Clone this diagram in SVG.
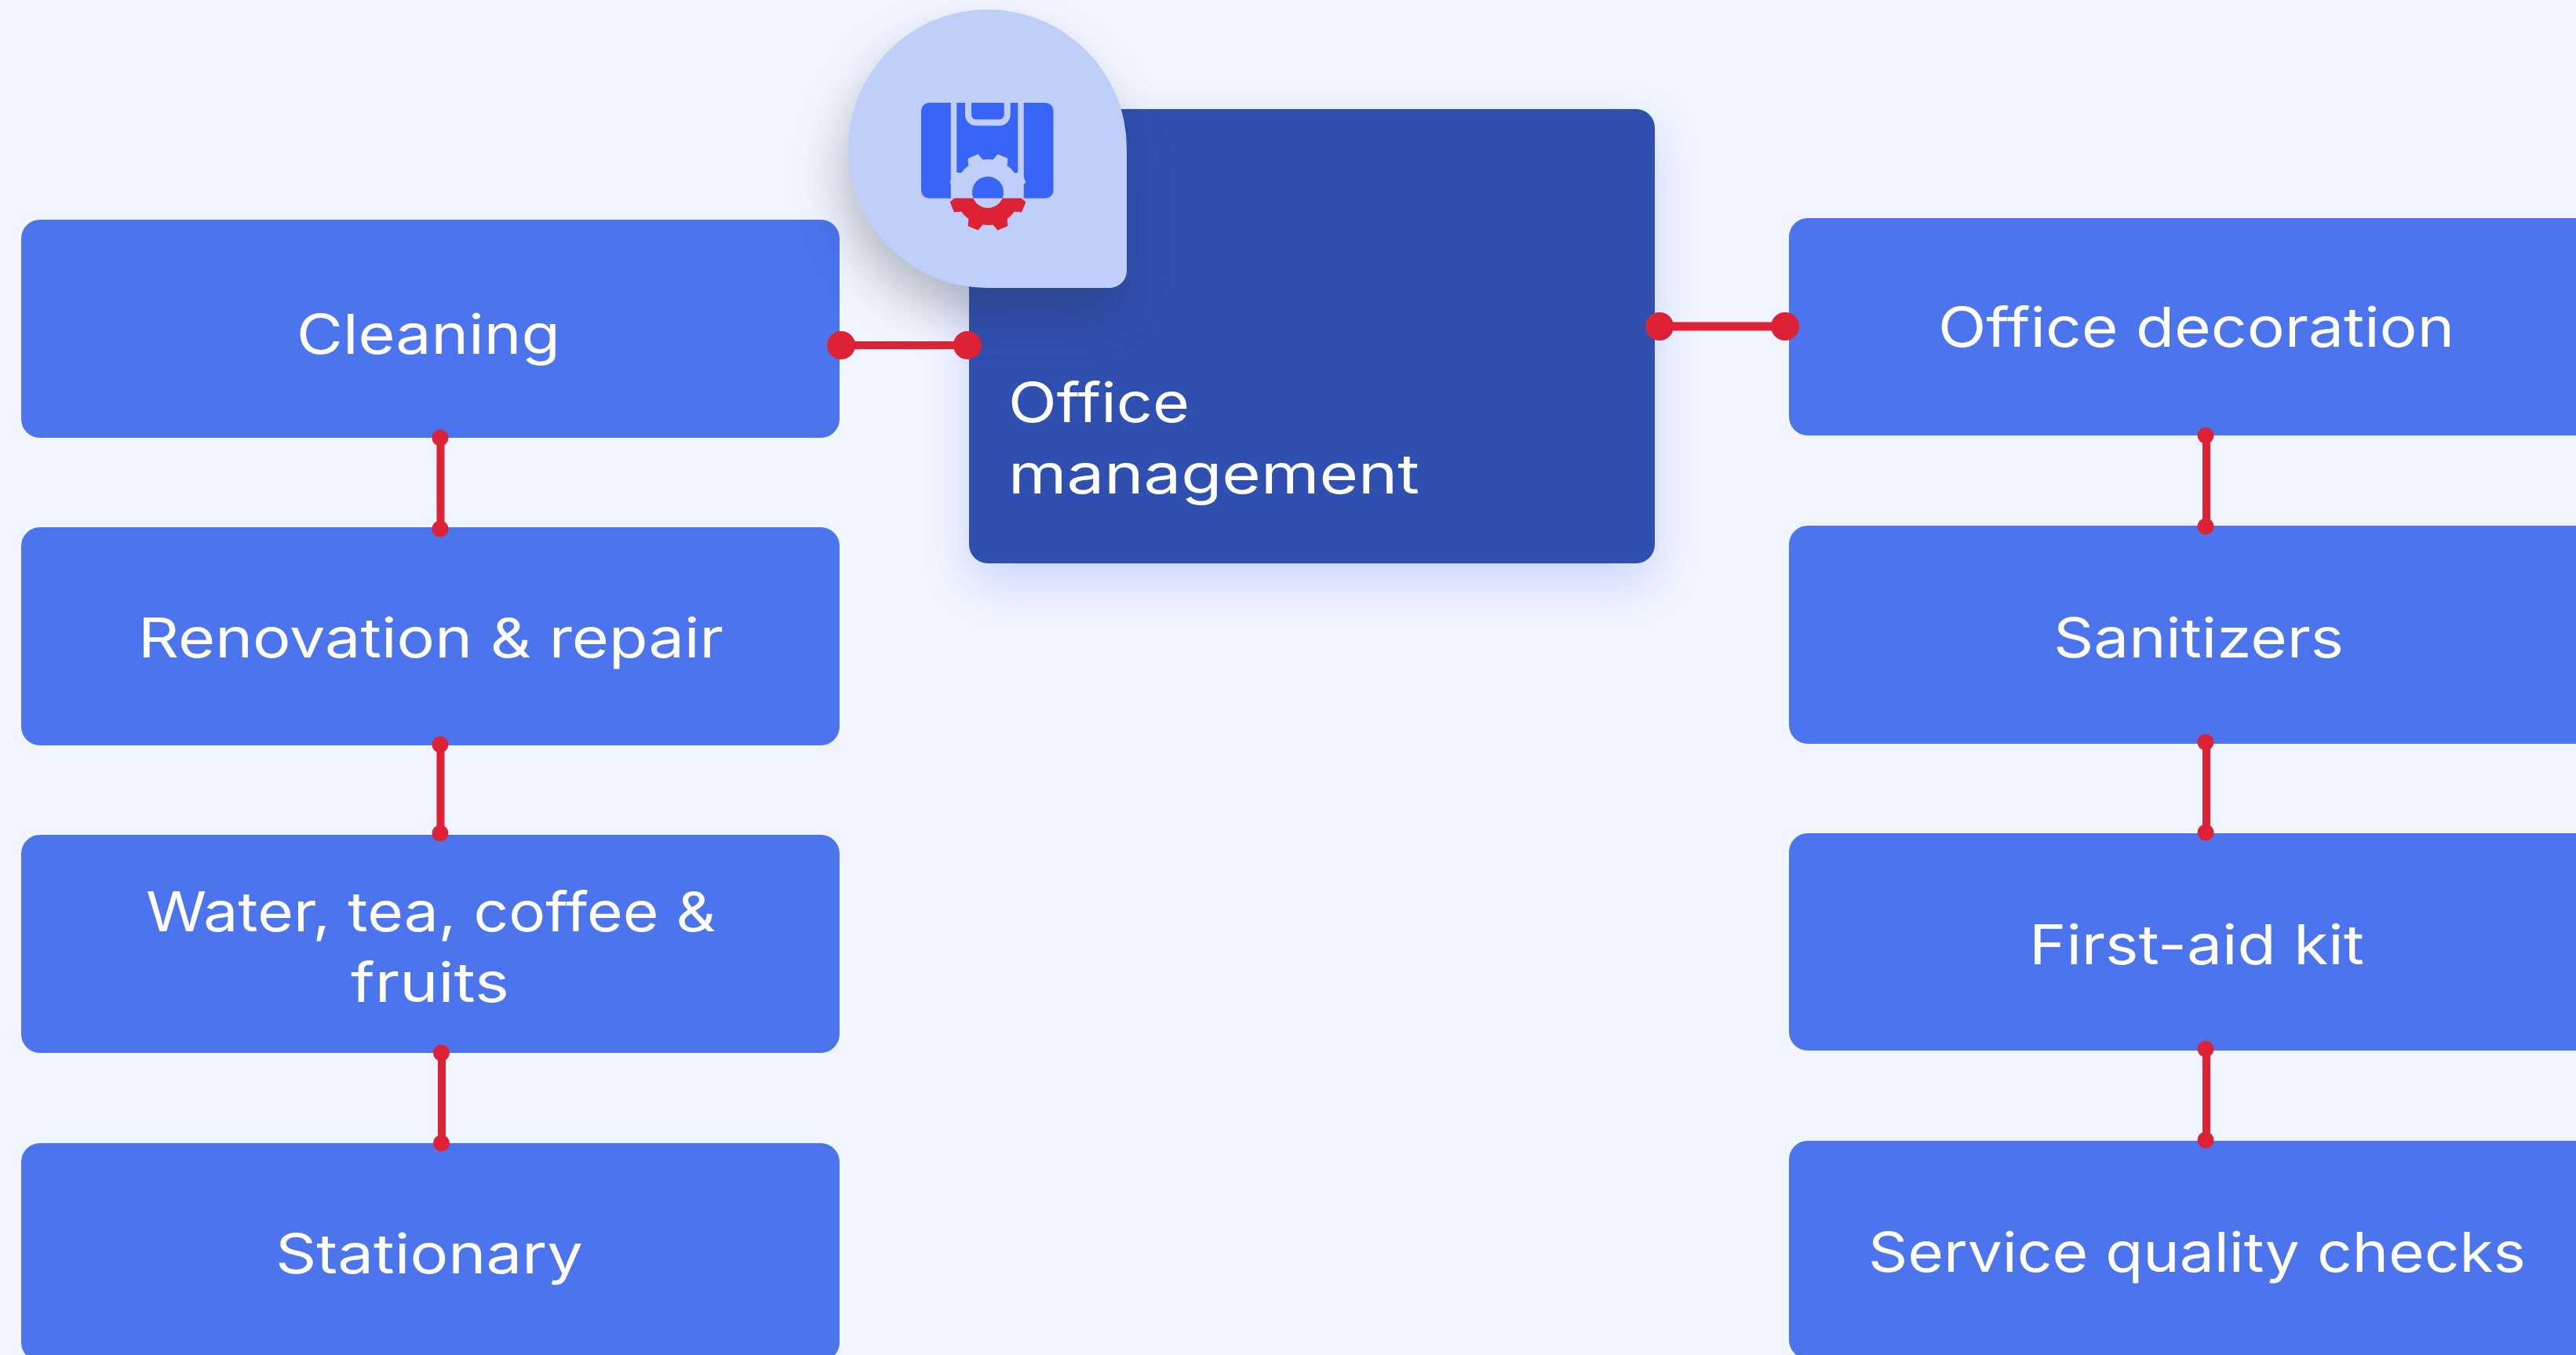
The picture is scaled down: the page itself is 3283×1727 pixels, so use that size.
<svg xmlns="http://www.w3.org/2000/svg" width="3283" height="1727" viewBox="0 0 3283 1727">
<style>
.box{fill:#4c74ed}
.t{font-family:"Inter","Liberation Sans",sans-serif;font-size:70px;font-weight:400;fill:#fff}
.c{stroke:#dd2236;fill:none}
.d{fill:#dd2236}
</style>
<defs>
<filter id="bs" x="-20%" y="-20%" width="140%" height="150%" color-interpolation-filters="sRGB"><feDropShadow dx="0" dy="24" stdDeviation="28" flood-color="#3f66f0" flood-opacity=".22"/></filter>
<filter id="ts" x="-30%" y="-30%" width="160%" height="170%" color-interpolation-filters="sRGB"><feDropShadow dx="-8" dy="34" stdDeviation="30" flood-color="#30343a" flood-opacity=".3"/></filter>
<clipPath id="up"><rect x="1150" y="120" width="220" height="132.700"/></clipPath>
<clipPath id="dn"><rect x="1150" y="252.700" width="220" height="60"/></clipPath>
<path id="tooth" d="M1248 208L1252 195.500 1266 195.500 1270 208Z"/>
<g id="gear">
<circle cx="1259" cy="245" r="42"/>
<use href="#tooth" transform="rotate(22.500 1259 245)"/>
<use href="#tooth" transform="rotate(67.500 1259 245)"/>
<use href="#tooth" transform="rotate(112.500 1259 245)"/>
<use href="#tooth" transform="rotate(157.500 1259 245)"/>
<use href="#tooth" transform="rotate(202.500 1259 245)"/>
<use href="#tooth" transform="rotate(247.500 1259 245)"/>
<use href="#tooth" transform="rotate(292.500 1259 245)"/>
<use href="#tooth" transform="rotate(337.500 1259 245)"/>
</g>
</defs>
<rect width="3283" height="1727" fill="#f1f5ff"/>
<g id="node-cleaning"><rect class="box" x="27" y="280" width="1043" height="278" rx="24"/><text class="t" x="378" y="451" textLength="336" lengthAdjust="spacingAndGlyphs">Cleaning</text></g>
<g id="node-renovation"><rect class="box" x="27" y="672" width="1043" height="278" rx="24"/><text class="t" x="176" y="838" textLength="746" lengthAdjust="spacingAndGlyphs">Renovation &amp; repair</text></g>
<g id="node-water"><rect class="box" x="27" y="1064" width="1043" height="278" rx="24"/><text class="t" x="186" y="1187" textLength="726" lengthAdjust="spacingAndGlyphs">Water, tea, coffee &amp;</text><text class="t" x="447" y="1277" textLength="202" lengthAdjust="spacingAndGlyphs">fruits</text></g>
<g id="node-stationary"><rect class="box" x="27" y="1457" width="1043" height="278" rx="24"/><text class="t" x="351" y="1623" textLength="392" lengthAdjust="spacingAndGlyphs">Stationary</text></g>
<g id="node-decoration"><rect class="box" x="2280" y="278" width="1043" height="277" rx="24"/><text class="t" x="2470" y="442" textLength="658" lengthAdjust="spacingAndGlyphs">Office decoration</text></g>
<g id="node-sanitizers"><rect class="box" x="2280" y="670" width="1043" height="278" rx="24"/><text class="t" x="2617" y="838" textLength="370" lengthAdjust="spacingAndGlyphs">Sanitizers</text></g>
<g id="node-firstaid"><rect class="box" x="2280" y="1062" width="1043" height="277" rx="24"/><text class="t" x="2586" y="1229" textLength="427" lengthAdjust="spacingAndGlyphs">First-aid kit</text></g>
<g id="node-service"><rect class="box" x="2280" y="1454" width="1043" height="278" rx="24"/><text class="t" x="2381" y="1621" textLength="838" lengthAdjust="spacingAndGlyphs">Service quality checks</text></g>
<g id="node-office">
<rect x="1235" y="139" width="874" height="579" rx="24" fill="#2f4fb1" filter="url(#bs)"/>
<text class="t" x="1285" y="538" textLength="231" lengthAdjust="spacingAndGlyphs">Office</text>
<text class="t" x="1285" y="629" textLength="524" lengthAdjust="spacingAndGlyphs">management</text>
<path d="M1258.500 12A177.500 177.500 0 0 1 1436 189.500V345A22 22 0 0 1 1414 367H1258.500A177.500 177.500 0 0 1 1258.500 12Z" fill="#c0cefa" filter="url(#ts)"/>
<g id="office-icon">
<rect x="1174" y="131" width="168.500" height="121.700" rx="10" fill="#3865f8"/>
<path d="M1215.500 131V252.700M1301 131V252.700" stroke="#c0cefa" stroke-width="7.500" fill="none"/>
<path d="M1234 131V146A10 10 0 0 0 1244 156.300H1273.700A10 10 0 0 0 1283.700 146V131" stroke="#c0cefa" stroke-width="8" fill="none"/>
<g clip-path="url(#up)" fill="#c0cefa"><use href="#gear"/><circle cx="1259" cy="245" r="20" fill="#3865f8"/></g>
<g clip-path="url(#dn)" fill="#dd2236"><use href="#gear"/><circle cx="1259" cy="245" r="20" fill="#c0cefa"/></g>
</g>
</g>
<g id="connectors">
<path class="c" stroke-width="10" d="M1072 440H1233"/><circle class="d" cx="1072" cy="440" r="18"/><circle class="d" cx="1233" cy="440" r="18"/>
<path class="c" stroke-width="11" d="M2115 416H2275"/><circle class="d" cx="2115" cy="416" r="18"/><circle class="d" cx="2275" cy="416" r="18"/>
<path class="c" stroke-width="10" d="M561.500 558V674"/><circle class="d" cx="561" cy="558" r="10.500"/><circle class="d" cx="561" cy="674" r="10.500"/>
<path class="c" stroke-width="10" d="M561.500 949V1062"/><circle class="d" cx="561" cy="949" r="10.500"/><circle class="d" cx="561" cy="1062" r="10.500"/>
<path class="c" stroke-width="10" d="M563 1342V1457"/><circle class="d" cx="562.500" cy="1342" r="10.500"/><circle class="d" cx="562.500" cy="1457" r="10.500"/>
<path class="c" stroke-width="10" d="M2812 555V671"/><circle class="d" cx="2811" cy="555" r="10.500"/><circle class="d" cx="2811" cy="671" r="10.500"/>
<path class="c" stroke-width="10" d="M2812 946V1061"/><circle class="d" cx="2811" cy="946" r="10.500"/><circle class="d" cx="2811" cy="1061" r="10.500"/>
<path class="c" stroke-width="10" d="M2812 1337V1453"/><circle class="d" cx="2811" cy="1337" r="10.500"/><circle class="d" cx="2811" cy="1453" r="10.500"/>
</g>
</svg>
